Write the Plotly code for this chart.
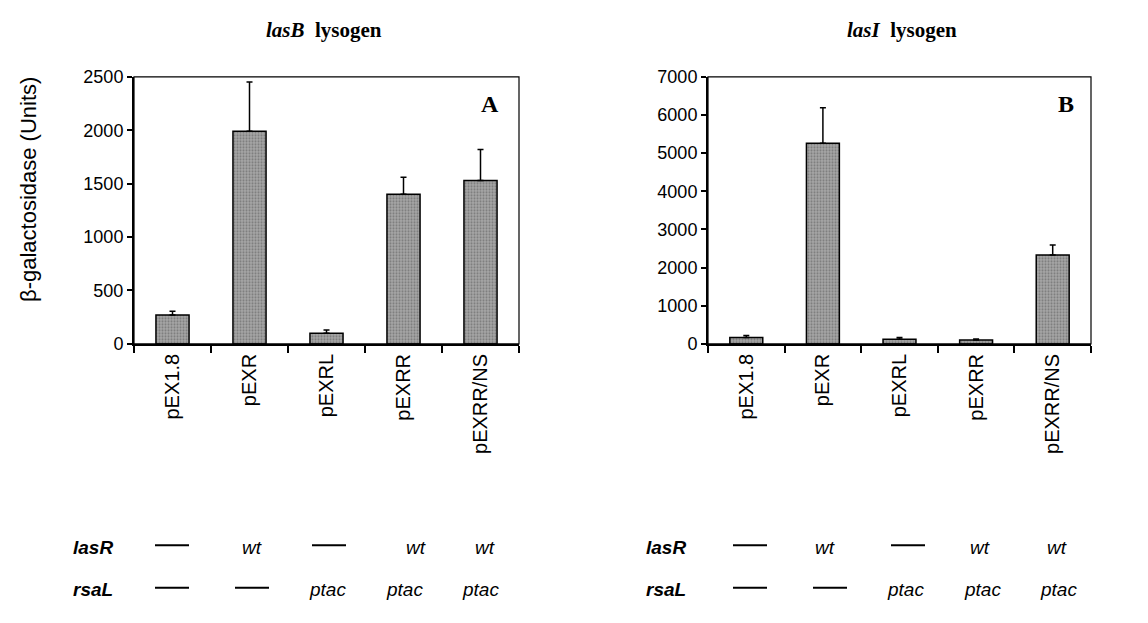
import plotly.graph_objects as go

# ---------------- data ----------------
categories = ["pEX1.8", "pEXR", "pEXRL", "pEXRR", "pEXRR/NS"]
lasB_values = [270, 1990, 100, 1400, 1530]
lasB_errors = [35, 460, 30, 160, 290]
lasI_values = [170, 5260, 120, 100, 2330]
lasI_errors = [50, 930, 50, 30, 260]
lasB_ticks = [0, 500, 1000, 1500, 2000, 2500]
lasI_ticks = [0, 1000, 2000, 3000, 4000, 5000, 6000, 7000]
lasR_row = ["—", "wt", "—", "wt", "wt"]
rsaL_row = ["—", "—", "ptac", "ptac", "ptac"]
panel_titles = ["<i>lasB</i>  lysogen", "<i>lasI</i>  lysogen"]
panel_letters = ["A", "B"]
y_title = "β-galactosidase (Units)"

W, H = 1148, 623
def px(x):
    return x / W
def py(y):
    return 1 - y / H

fig = go.Figure()

bar_marker = dict(
    color="#9a9a9a",
    line=dict(color="black", width=1.5),
    pattern=dict(shape=".", fgcolor="#4a4a4a", bgcolor="#a8a8a8", size=3, solidity=0.4),
)

for i, (vals, errs) in enumerate([(lasB_values, lasB_errors), (lasI_values, lasI_errors)]):
    xa = "x" if i == 0 else "x2"
    ya = "y" if i == 0 else "y2"
    fig.add_trace(go.Bar(
        x=categories, y=vals, width=0.43,
        marker=bar_marker,
        error_y=dict(type="data", array=errs, arrayminus=[0] * len(errs), symmetric=False,
                     color="black", thickness=1.5, width=3),
        xaxis=xa, yaxis=ya, showlegend=False,
    ))

ydom = [py(345), py(69)]
xdomA = [px(134), px(519)]
xdomB = [px(708), px(1091)]

tickfont = dict(family="Arial, Liberation Sans, sans-serif", size=18, color="black")
xfont = dict(family="Arial, Liberation Sans, sans-serif", size=20, color="black")

common_x = dict(
    type="category", range=[-0.5, 4.5], showline=True, linecolor="black", linewidth=2,
    ticks="outside", tickson="boundaries", ticklen=7, tickwidth=1.5, tickcolor="black",
    tickangle=-90, tickfont=xfont, showgrid=False, zeroline=False, fixedrange=True,
)
common_y = dict(
    showline=True, linecolor="black", linewidth=2, ticks="outside", ticklen=5,
    tickwidth=1.5, tickcolor="black", tickfont=tickfont, showgrid=False, zeroline=False,
    fixedrange=True,
)

fig.update_layout(
    width=W, height=H,
    margin=dict(l=0, r=0, t=0, b=0),
    paper_bgcolor="white", plot_bgcolor="white",
    xaxis=dict(domain=xdomA, anchor="y", **common_x),
    yaxis=dict(domain=ydom, anchor="x", range=[0, 2500], tickvals=lasB_ticks, **common_y),
    xaxis2=dict(domain=xdomB, anchor="y2", **common_x),
    yaxis2=dict(domain=ydom, anchor="x2", range=[0, 7000], tickvals=lasI_ticks, **common_y),
    # overlay axes for the inward half of the crossing x ticks
    xaxis3=dict(overlaying="x", anchor="y", range=[-0.5, 4.5], tickvals=[0.5, 1.5, 2.5, 3.5, 4.5],
                ticks="inside", ticklen=5, tickwidth=1.5, tickcolor="black",
                showticklabels=False, showline=False, showgrid=False, zeroline=False),
    xaxis4=dict(overlaying="x2", anchor="y2", range=[-0.5, 4.5], tickvals=[0.5, 1.5, 2.5, 3.5, 4.5],
                ticks="inside", ticklen=5, tickwidth=1.5, tickcolor="black",
                showticklabels=False, showline=False, showgrid=False, zeroline=False),
)

# thin frame (top/right)
for xr, yr in [("x domain", "y domain"), ("x2 domain", "y2 domain")]:
    fig.add_shape(type="rect", xref=xr, yref=yr, x0=0, x1=1, y0=0, y1=1,
                  line=dict(color="black", width=1.2), layer="above")

serif = "Book Antiqua, Palatino Linotype, Liberation Serif, Times New Roman, serif"
annotations = []
# panel titles
for t, cx in zip(panel_titles, [324, 902]):
    annotations.append(dict(text="<b>" + t + "</b>", x=px(cx), y=py(21), xref="paper", yref="paper",
                            showarrow=False, font=dict(family=serif, size=21, color="black"),
                            xanchor="center", yanchor="middle"))
# panel letters
for t, cx in zip(panel_letters, [490, 1066]):
    annotations.append(dict(text="<b>" + t + "</b>", x=px(cx), y=py(97), xref="paper", yref="paper",
                            showarrow=False, font=dict(family=serif, size=24, color="black"),
                            xanchor="center", yanchor="middle"))
# y title
annotations.append(dict(text=y_title, x=px(28), y=py(186), xref="paper", yref="paper",
                        showarrow=False, textangle=-90,
                        font=dict(family="Arial, Liberation Sans, sans-serif", size=22, color="black"),
                        xanchor="center", yanchor="middle"))

tfont = dict(family="Arial, Liberation Sans, sans-serif", size=19, color="black")
row_y = {"lasR": 555, "rsaL": 599}
col_x = {
    ("A", "lasR"): [172, 252, 329, 416, 485],
    ("A", "rsaL"): [172, 252, 327, 404, 480],
    ("B", "lasR"): [750, 825, 908, 980, 1057],
    ("B", "rsaL"): [750, 830, 905, 982, 1058],
}
label_x = {"A": 93, "B": 666}
for panel in ["A", "B"]:
    for name, row in [("lasR", lasR_row), ("rsaL", rsaL_row)]:
        y = row_y[name]
        annotations.append(dict(text="<b><i>" + name + "</i></b>", x=px(label_x[panel]), y=py(y),
                                xref="paper", yref="paper", showarrow=False, font=tfont,
                                xanchor="center", yanchor="middle"))
        for val, cx in zip(row, col_x[(panel, name)]):
            if val == "—":
                fig.add_shape(type="line", xref="paper", yref="paper",
                              x0=px(cx - 17), x1=px(cx + 17), y0=py(y - 2), y1=py(y - 2),
                              line=dict(color="black", width=2))
            else:
                annotations.append(dict(text="<i>" + val + "</i>", x=px(cx), y=py(y),
                                        xref="paper", yref="paper", showarrow=False, font=tfont,
                                        xanchor="center", yanchor="middle"))

fig.update_layout(annotations=annotations)

fig.write_html("out.html")
